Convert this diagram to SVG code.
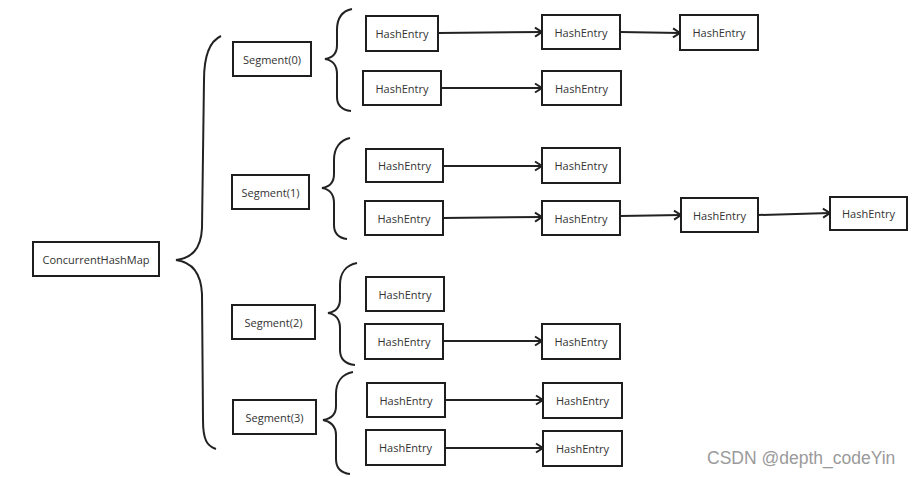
<svg xmlns="http://www.w3.org/2000/svg" width="912" height="477" viewBox="0 0 912 477">
<defs>
<style>
.box{fill:#fff;stroke:#1e1e1e;stroke-width:2}
.lbl{font-family:"Open Sans","Noto Sans",sans-serif;font-size:11px;fill:#333;text-anchor:middle;dominant-baseline:central}
.conn{fill:none;stroke:#222;stroke-width:2}
.brace{fill:none;stroke:#222;stroke-width:2}
.wm{font-family:"Liberation Sans",Arial,sans-serif;font-size:17.5px;fill:#9a9a9a}
</style>
<marker id="arr" markerWidth="12" markerHeight="12" refX="9" refY="6" orient="auto" markerUnits="userSpaceOnUse">
<path d="M2,1.5 L9,6 L2,10.5" fill="none" stroke="#222" stroke-width="2"/>
</marker>
</defs>
<rect width="912" height="477" fill="#fff"/>

<g id="braces">
<path class="brace" d="M221,36 C208,42 204,58 204,80 L202,228 C201,250 191,258 176,260 C191,262 201,272 202,294 L203,420 C203,440 207,446 216,449"/>
<path class="brace" d="M352,9 C342,11 337,18 337,30 L337,45 C337,54 332,58 325,59 C332,60 337,65 337,74 L337,97 C337,106 342,110 351,111"/>
<path class="brace" d="M350,138 C340,140 334,148 334,160 L334,174 C334,183 329,187 322,188 C329,189 334,194 334,203 L334,225 C334,234 339,238 347,239"/>
<path class="brace" d="M357,263 C346,265 340,273 340,285 L340,299 C340,308 335,312 328,313 C335,314 340,319 340,328 L340,350 C340,359 345,364 355,365"/>
<path class="brace" d="M353,372 C342,374 336,382 336,394 L336,406 C336,415 330,419 323,420 C330,421 336,426 336,435 L336,459 C336,468 341,473 350,474"/>
</g>

<g id="connectors">
<line class="conn" x1="438" y1="33" x2="542" y2="32" marker-end="url(#arr)"/>
<line class="conn" x1="620" y1="32" x2="680" y2="33" marker-end="url(#arr)"/>
<line class="conn" x1="441" y1="88" x2="542" y2="88" marker-end="url(#arr)"/>
<line class="conn" x1="443" y1="166" x2="542" y2="166" marker-end="url(#arr)"/>
<line class="conn" x1="443" y1="218" x2="542" y2="217" marker-end="url(#arr)"/>
<line class="conn" x1="620" y1="216" x2="681" y2="215" marker-end="url(#arr)"/>
<line class="conn" x1="758" y1="215" x2="830" y2="213" marker-end="url(#arr)"/>
<line class="conn" x1="443" y1="341" x2="542" y2="341" marker-end="url(#arr)"/>
<line class="conn" x1="445" y1="400" x2="543" y2="400" marker-end="url(#arr)"/>
<line class="conn" x1="445" y1="448" x2="543" y2="448" marker-end="url(#arr)"/>
</g>

<g id="chm"><rect class="box" x="33" y="242" width="126" height="34"/><text class="lbl" x="96" y="259">ConcurrentHashMap</text></g>
<g id="seg0"><rect class="box" x="233" y="42" width="78" height="34"/><text class="lbl" x="272" y="59">Segment(0)</text></g>
<g id="seg1"><rect class="box" x="232" y="175" width="77" height="34"/><text class="lbl" x="270.5" y="192">Segment(1)</text></g>
<g id="seg2"><rect class="box" x="232" y="305" width="83" height="34"/><text class="lbl" x="273.5" y="322">Segment(2)</text></g>
<g id="seg3"><rect class="box" x="233" y="400" width="83" height="34"/><text class="lbl" x="274.5" y="417">Segment(3)</text></g>

<g id="r0c0"><rect class="box" x="366" y="16" width="72" height="35"/><text class="lbl" x="402" y="33.5">HashEntry</text></g>
<g id="r0c1"><rect class="box" x="542" y="15" width="78" height="34"/><text class="lbl" x="581" y="32">HashEntry</text></g>
<g id="r0c2"><rect class="box" x="680" y="15" width="78" height="35"/><text class="lbl" x="719" y="32.5">HashEntry</text></g>
<g id="r1c0"><rect class="box" x="363" y="71" width="78" height="34"/><text class="lbl" x="402" y="88">HashEntry</text></g>
<g id="r1c1"><rect class="box" x="542" y="71" width="79" height="34"/><text class="lbl" x="581.5" y="88">HashEntry</text></g>
<g id="r2c0"><rect class="box" x="366" y="149" width="77" height="33"/><text class="lbl" x="404.5" y="165.5">HashEntry</text></g>
<g id="r2c1"><rect class="box" x="542" y="148" width="78" height="35"/><text class="lbl" x="581" y="165.5">HashEntry</text></g>
<g id="r3c0"><rect class="box" x="365" y="201" width="78" height="34"/><text class="lbl" x="404" y="218">HashEntry</text></g>
<g id="r3c1"><rect class="box" x="542" y="201" width="78" height="34"/><text class="lbl" x="581" y="218">HashEntry</text></g>
<g id="r3c2"><rect class="box" x="681" y="198" width="77" height="34"/><text class="lbl" x="719.5" y="215">HashEntry</text></g>
<g id="r3c3"><rect class="box" x="830" y="197" width="77" height="33"/><text class="lbl" x="868.5" y="213.5">HashEntry</text></g>
<g id="r4c0"><rect class="box" x="366" y="277" width="78" height="34"/><text class="lbl" x="405" y="294">HashEntry</text></g>
<g id="r5c0"><rect class="box" x="365" y="324" width="78" height="35"/><text class="lbl" x="404" y="341.5">HashEntry</text></g>
<g id="r5c1"><rect class="box" x="542" y="324" width="78" height="35"/><text class="lbl" x="581" y="341.5">HashEntry</text></g>
<g id="r6c0"><rect class="box" x="367" y="383" width="78" height="34"/><text class="lbl" x="406" y="400">HashEntry</text></g>
<g id="r6c1"><rect class="box" x="543" y="383" width="79" height="35"/><text class="lbl" x="582.5" y="400.5">HashEntry</text></g>
<g id="r7c0"><rect class="box" x="366" y="430" width="79" height="35"/><text class="lbl" x="405.5" y="447.5">HashEntry</text></g>
<g id="r7c1"><rect class="box" x="543" y="431" width="79" height="35"/><text class="lbl" x="582.5" y="448.5">HashEntry</text></g>

<text class="wm" x="707" y="464">CSDN @depth_codeYin</text>
</svg>
